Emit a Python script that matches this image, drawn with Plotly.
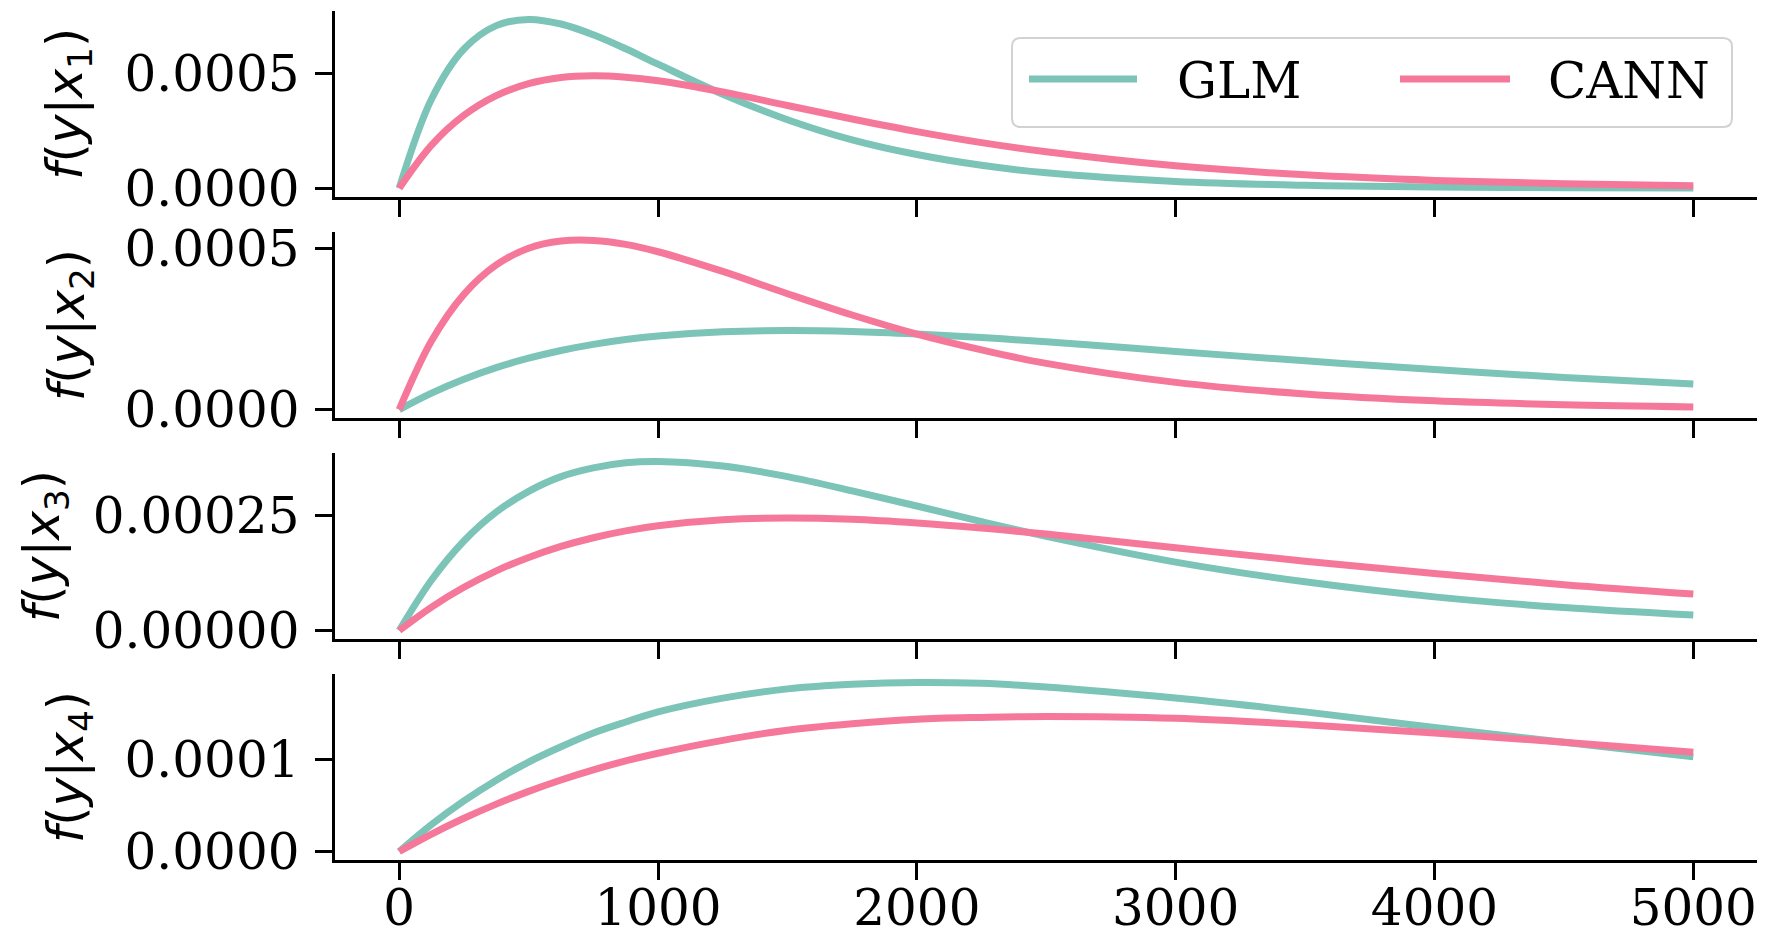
import plotly.graph_objects as go

# ---- data ----
y_grid = [0, 125, 250, 375, 500, 625, 750, 875, 1000, 1250, 1500, 1750, 2000,
          2250, 2500, 3000, 3500, 4000, 4500, 5000]

glm_x1 = [0, 0.000389, 0.000607, 0.000709, 0.000736, 0.000716, 0.000669, 0.000608,
          0.000541, 0.000410, 0.000299, 0.000211, 0.000147, 0.000100, 0.0000674,
          0.0000297, 0.0000128, 0.0000054, 0.0000022, 0.0000009]
cann_x1 = [0, 0.000188, 0.000318, 0.000404, 0.000456, 0.000483, 0.000490, 0.000484,
           0.000469, 0.000420, 0.000361, 0.000302, 0.000247, 0.000199, 0.000159,
           0.0000977, 0.0000585, 0.0000343, 0.0000198, 0.0000113]

glm_x2 = [0, 0.0000511, 0.0000941, 0.000130, 0.000159, 0.000183, 0.000202, 0.000217,
          0.000228, 0.000241, 0.000245, 0.000242, 0.000234, 0.000223, 0.000210,
          0.000180, 0.000151, 0.000124, 0.0000996, 0.0000793]
cann_x2 = [0, 0.000213, 0.000357, 0.000448, 0.000500, 0.000522, 0.000524, 0.000512,
           0.000489, 0.000428, 0.000359, 0.000293, 0.000234, 0.000185, 0.000143,
           0.0000842, 0.0000481, 0.0000269, 0.0000148, 0.0000081]

glm_x3 = [0, 0.000110, 0.000195, 0.000258, 0.000303, 0.000335, 0.000354, 0.000365,
          0.000368, 0.000358, 0.000335, 0.000304, 0.000271, 0.000237, 0.000205,
          0.000149, 0.000106, 0.0000733, 0.0000500, 0.0000337]
cann_x3 = [0, 0.0000511, 0.0000941, 0.000130, 0.000159, 0.000183, 0.000202, 0.000217,
           0.000228, 0.000241, 0.000245, 0.000242, 0.000234, 0.000223, 0.000210,
           0.000180, 0.000151, 0.000124, 0.0000996, 0.0000793]

glm_x4 = [0, 0.0000294, 0.0000551, 0.0000777, 0.0000974, 0.000114, 0.000129, 0.000141,
          0.000152, 0.000167, 0.000177, 0.000182, 0.000184, 0.000183, 0.000179,
          0.000167, 0.000152, 0.000135, 0.000119, 0.000103]
cann_x4 = [0, 0.0000190, 0.0000362, 0.0000516, 0.0000655, 0.0000779, 0.0000889, 0.0000987,
           0.000107, 0.000121, 0.000132, 0.000139, 0.000144, 0.000146, 0.000147,
           0.000145, 0.000138, 0.000129, 0.000119, 0.000108]

series_names = ["GLM", "CANN"]
panel_labels = ["<i>f</i>(<i>y</i>|<i>x</i><sub>1</sub>)",
                "<i>f</i>(<i>y</i>|<i>x</i><sub>2</sub>)",
                "<i>f</i>(<i>y</i>|<i>x</i><sub>3</sub>)",
                "<i>f</i>(<i>y</i>|<i>x</i><sub>4</sub>)"]
x_ticks = [0, 1000, 2000, 3000, 4000, 5000]
y_tickvals = [[0, 0.0005], [0, 0.0005], [0, 0.00025], [0, 0.0001]]
y_ticktext = [["0.0000", "0.0005"], ["0.0000", "0.0005"],
              ["0.00000", "0.00025"], ["0.0000", "0.0001"]]

panels = [(glm_x1, cann_x1), (glm_x2, cann_x2), (glm_x3, cann_x3), (glm_x4, cann_x4)]

# ---- style ----
W, H = 1765, 942
OFF = 8  # the page body margin shifts the figure by this many pixels
colors = {"GLM": "#7cc4b8", "CANN": "#f5789b"}
tick_font = dict(family="DejaVu Serif", size=50, color="black")
panel_px = [(11, 196.7), (232, 418), (453, 639), (674, 860)]   # (top, bottom) on page
x_left_px, x_right_px = 334.5, 1758
label_x_px = [69, 70, 45, 69]
LW = 7


def fx(xp):
    return (xp - OFF) / W


def fy(yp):
    return 1 - (yp - OFF) / H


fig = go.Figure()
shapes, annotations = [], []
layout = dict(
    width=W, height=H,
    margin=dict(l=0, r=0, t=0, b=0, pad=0),
    paper_bgcolor="white", plot_bgcolor="white",
    showlegend=False,
)

for i, (g, c) in enumerate(panels):
    k = "" if i == 0 else str(i + 1)
    xa, ya = "x" + k, "y" + k
    for name, vals in zip(series_names, (g, c)):
        fig.add_trace(go.Scatter(
            x=y_grid, y=vals, mode="lines", name=name,
            line=dict(color=colors[name], width=LW, shape="spline", smoothing=1.0),
            xaxis=xa, yaxis=ya, legendgroup=name,
        ))
    top, bot = panel_px[i]
    m = max(max(g), max(c))
    layout["xaxis" + k] = dict(
        domain=[fx(x_left_px), fx(x_right_px)], range=[-250, 5250],
        anchor=ya, showgrid=False, zeroline=False, automargin=False,
        showline=True, linecolor="black", linewidth=3,
        ticks="outside", ticklen=17, tickwidth=3, tickcolor="black",
        tickvals=x_ticks, showticklabels=(i == 3), tickfont=tick_font,
        ticklabelstandoff=-15,
    )
    layout["yaxis" + k] = dict(
        domain=[fy(bot), fy(top)], range=[-0.05 * m, 1.05 * m],
        anchor=xa, showgrid=False, zeroline=False, automargin=False,
        showline=True, linecolor="black", linewidth=3,
        ticks="outside", ticklen=17, tickwidth=3, tickcolor="black",
        tickvals=y_tickvals[i], ticktext=y_ticktext[i], tickfont=tick_font,
        ticklabelstandoff=5,
    )
    annotations.append(dict(
        text=panel_labels[i], xref="paper", yref="paper",
        x=fx(label_x_px[i]), y=fy((top + bot) / 2),
        xanchor="center", yanchor="middle", textangle=-90, showarrow=False,
        font=dict(family="DejaVu Sans", size=49, color="black"),
    ))

# ---- legend box (drawn like the reference: long line samples) ----
bx0, by0, bx1, by1, r = 1012, 38, 1732, 127, 9
X0, Y0, X1, Y1 = fx(bx0), fy(by0), fx(bx1), fy(by1)
rx, ry = r / W, r / H
path = (f"M{X0+rx},{Y0} L{X1-rx},{Y0} Q{X1},{Y0} {X1},{Y0-ry} "
        f"L{X1},{Y1+ry} Q{X1},{Y1} {X1-rx},{Y1} L{X0+rx},{Y1} "
        f"Q{X0},{Y1} {X0},{Y1+ry} L{X0},{Y0-ry} Q{X0},{Y0} {X0+rx},{Y0} Z")
shapes.append(dict(type="path", path=path, xref="paper", yref="paper",
                   fillcolor="rgba(255,255,255,0.85)",
                   line=dict(color="#d2d2d2", width=2), layer="above"))
legend_items = [("GLM", 1029, 1137, 1178), ("CANN", 1400, 1510, 1549)]
for name, lx0, lx1, tx in legend_items:
    shapes.append(dict(type="line", xref="paper", yref="paper",
                       x0=fx(lx0), x1=fx(lx1), y0=fy(79), y1=fy(79),
                       line=dict(color=colors[name], width=LW), layer="above"))
    annotations.append(dict(
        text=name, xref="paper", yref="paper", x=fx(tx - 3), y=fy(81),
        xanchor="left", yanchor="middle", showarrow=False,
        font=dict(family="DejaVu Serif", size=50, color="black"),
    ))

layout["shapes"] = shapes
layout["annotations"] = annotations
fig.update_layout(**layout)
fig.write_html("out.html")
